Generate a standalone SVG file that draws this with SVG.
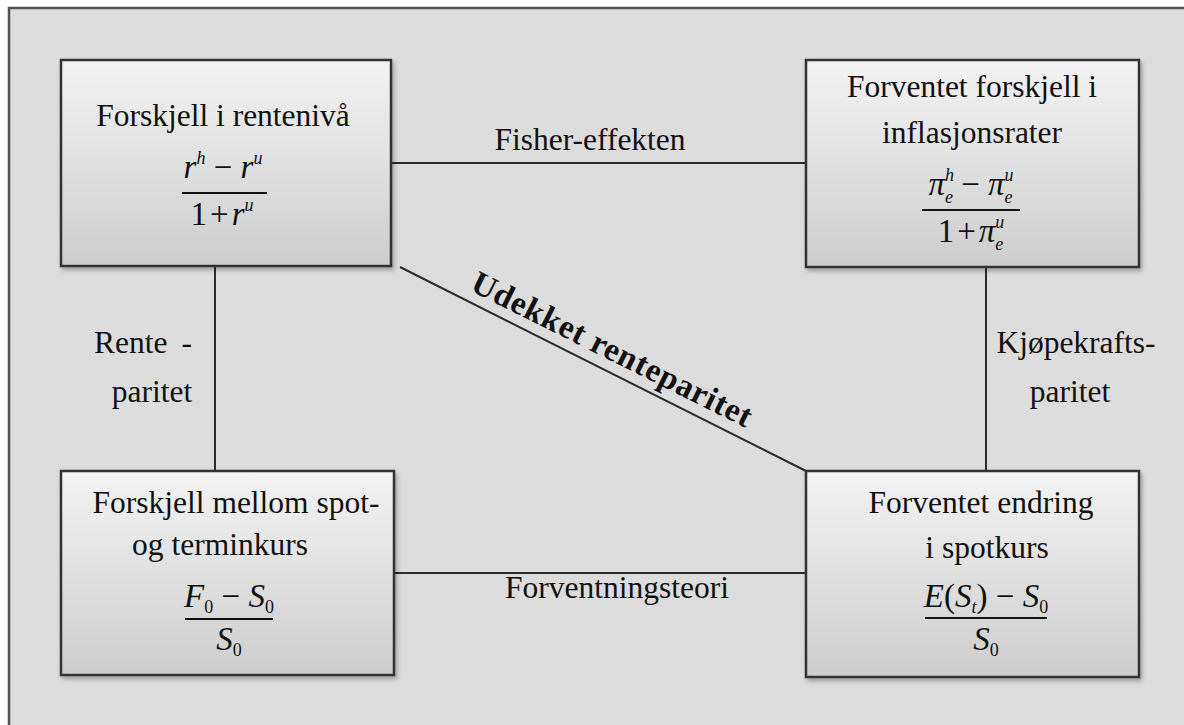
<svg xmlns="http://www.w3.org/2000/svg" width="1184" height="725" viewBox="0 0 1184 725">
  <defs>
    <linearGradient id="boxFill" x1="0" y1="0" x2="0" y2="1">
      <stop offset="0" stop-color="#f3f3f3"/>
      <stop offset="1" stop-color="#cdcdcd"/>
    </linearGradient>
    <filter id="shadow" x="-5%" y="-5%" width="112%" height="115%">
      <feDropShadow dx="2" dy="3" stdDeviation="2" flood-color="#000" flood-opacity="0.28"/>
    </filter>
  </defs>
  <style>
    .frame { fill: #dcdcdc; stroke: #555; stroke-width: 2.5; }
    .box { fill: url(#boxFill); stroke: #333; stroke-width: 2.5; filter: url(#shadow); }
    .link { stroke: #2a2a2a; stroke-width: 2; fill: none; }
    text { font-family: "Liberation Serif", "Times New Roman", serif; fill: #111; }
    .t { font-size: 31.5px; text-anchor: middle; }
    .m { font-size: 33px; text-anchor: middle; font-style: italic; }
    .up { font-style: normal; }
    .s { font-size: 18px; }
    .bar { stroke: #111; stroke-width: 1.8; }
    .diag { font-size: 33px; font-weight: bold; }
  </style>

  <!-- background panel -->
  <rect class="frame" x="9" y="8" width="1200" height="740"/>

  <!-- connectors -->
  <g id="connectors">
    <line class="link" x1="391" y1="163" x2="806" y2="163"/>
    <line class="link" x1="215" y1="266" x2="215" y2="471"/>
    <line class="link" x1="986" y1="267" x2="986" y2="471"/>
    <line class="link" x1="394" y1="573" x2="806" y2="573"/>
    <line class="link" x1="400" y1="267" x2="806" y2="471"/>
    <text class="t" x="590" y="150">Fisher-effekten</text>
    <text class="t" x="617" y="598">Forventningsteori</text>
    <text class="t" x="143" y="353">Rente<tspan dx="14">-</tspan></text>
    <text class="t" x="152" y="402">paritet</text>
    <text class="t" x="1076" y="353">Kjøpekrafts-</text>
    <text class="t" x="1070" y="402">paritet</text>
    <text class="diag" x="469" y="290" transform="rotate(26.5 469 290)" textLength="309" lengthAdjust="spacing">Udekket renteparitet</text>
  </g>

  <!-- interest rate differential -->
  <g id="node-rente">
    <rect class="box" x="61" y="60" width="330" height="206"/>
    <text class="t" x="223" y="126">Forskjell i rentenivå</text>
    <text class="m" x="223" y="178">r<tspan class="s" dy="-14">h</tspan><tspan class="up" dy="14"> − </tspan>r<tspan class="s" dy="-14">u</tspan></text>
    <line class="bar" x1="182" y1="193" x2="267" y2="193"/>
    <text class="m" x="222" y="225"><tspan class="up">1</tspan><tspan class="up" dx="3">+</tspan><tspan dx="3">r</tspan><tspan class="s" dy="-14">u</tspan></text>
  </g>

  <!-- expected inflation differential -->
  <g id="node-inflasjon">
    <rect class="box" x="806" y="60" width="333" height="207"/>
    <text class="t" x="972" y="97">Forventet forskjell i</text>
    <text class="t" x="972" y="143">inflasjonsrater</text>
    <text class="m" x="971" y="195">π<tspan class="s" dy="-14">h</tspan><tspan class="s" dx="-9" dy="22">e</tspan><tspan class="up" dy="-8"> − </tspan>π<tspan class="s" dy="-14">u</tspan><tspan class="s" dx="-9" dy="22">e</tspan></text>
    <line class="bar" x1="922" y1="210" x2="1020" y2="210"/>
    <text class="m" x="971" y="242"><tspan class="up">1</tspan><tspan class="up" dx="3">+</tspan><tspan dx="3">π</tspan><tspan class="s" dy="-14">u</tspan><tspan class="s" dx="-9" dy="22">e</tspan></text>
  </g>

  <!-- spot vs forward rate -->
  <g id="node-termin">
    <rect class="box" x="61" y="471" width="333" height="204"/>
    <text class="t" x="236" y="513">Forskjell mellom spot-</text>
    <text class="t" x="220" y="555">og terminkurs</text>
    <text class="m" x="229" y="607">F<tspan class="s up" dy="6">0</tspan><tspan class="up" dy="-6"> − </tspan>S<tspan class="s up" dy="6">0</tspan></text>
    <line class="bar" x1="185" y1="619" x2="273" y2="619"/>
    <text class="m" x="229" y="650">S<tspan class="s up" dy="6">0</tspan></text>
  </g>

  <!-- expected change in spot rate -->
  <g id="node-spot">
    <rect class="box" x="806" y="471" width="333" height="206"/>
    <text class="t" x="981" y="513">Forventet endring</text>
    <text class="t" x="987" y="558">i spotkurs</text>
    <text class="m" x="986" y="607">E<tspan class="up">(</tspan>S<tspan class="s" dy="6">t</tspan><tspan class="up" dy="-6">) − </tspan>S<tspan class="s up" dy="6">0</tspan></text>
    <line class="bar" x1="925" y1="618" x2="1047" y2="618"/>
    <text class="m" x="986" y="650">S<tspan class="s up" dy="6">0</tspan></text>
  </g>
</svg>
